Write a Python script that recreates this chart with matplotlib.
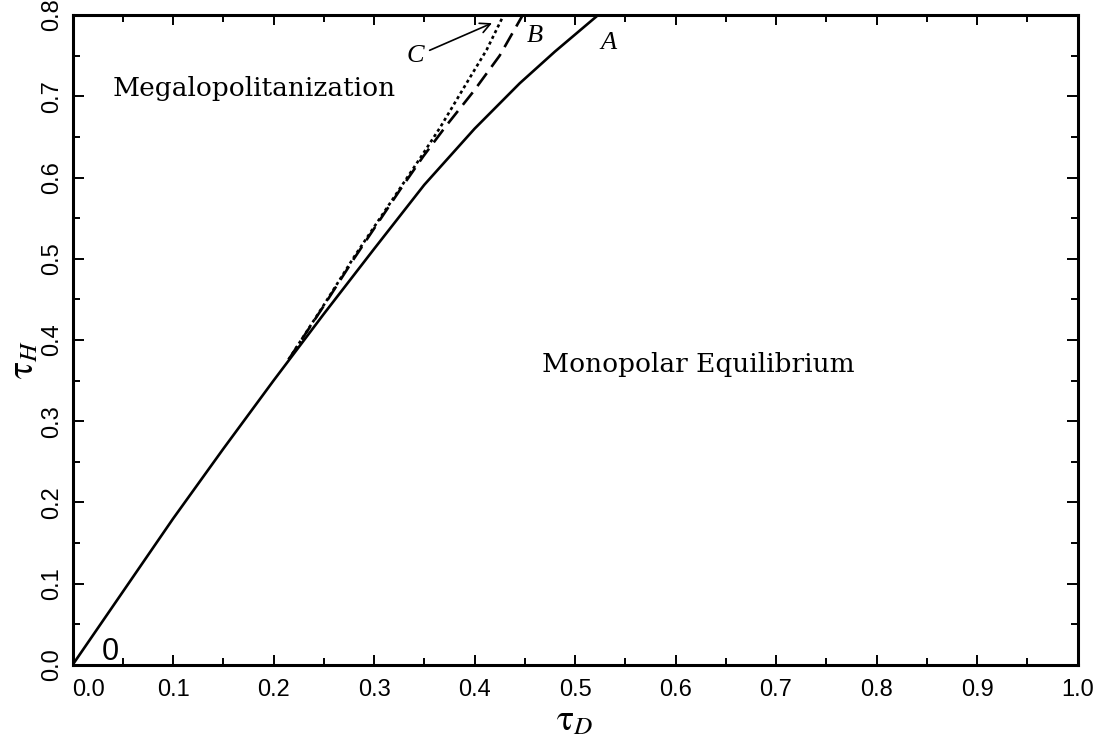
import numpy as np
import matplotlib
matplotlib.use("Agg")
import matplotlib.pyplot as plt
from matplotlib.ticker import MultipleLocator

plt.rcParams['mathtext.fontset'] = 'stix'

# curve A (solid), B (dashed), C (dotted)
a_x = [0.0, 0.05, 0.10, 0.15, 0.20, 0.25, 0.30, 0.35, 0.40, 0.445, 0.48, 0.523]
a_y = [0.0, 0.09, 0.18, 0.266, 0.35, 0.432, 0.512, 0.591, 0.660, 0.716, 0.755, 0.80]
b_x = [0.215, 0.25, 0.28, 0.30, 0.326, 0.349, 0.372, 0.399, 0.425, 0.448]
b_y = [0.376, 0.442, 0.500, 0.537, 0.585, 0.626, 0.664, 0.706, 0.750, 0.80]
c_x = [0.215, 0.25, 0.28, 0.30, 0.326, 0.346, 0.366, 0.392, 0.412, 0.429]
c_y = [0.376, 0.443, 0.502, 0.539, 0.587, 0.624, 0.662, 0.716, 0.757, 0.80]

x_ticks = [0.0, 0.1, 0.2, 0.3, 0.4, 0.5, 0.6, 0.7, 0.8, 0.9, 1.0]
y_ticks = [0.0, 0.1, 0.2, 0.3, 0.4, 0.5, 0.6, 0.7, 0.8]

fig = plt.figure(figsize=(11.02, 7.44), dpi=100)
ax = fig.add_axes([0.0658, 0.1062, 0.912, 0.8736])

ax.plot(a_x, a_y, color='black', lw=1.9, solid_capstyle='butt')
ax.plot(b_x, b_y, color='black', lw=1.9, dashes=(6, 3))
ax.plot(c_x, c_y, color='black', lw=1.9, dashes=(1.2, 1.2))

ax.set_xlim(0, 1.0)
ax.set_ylim(0, 0.8)
ax.set_xticks(x_ticks)
ax.set_yticks(y_ticks)
ax.set_xticklabels(['%.1f' % v for v in x_ticks])
ax.set_yticklabels(['%.1f' % v for v in y_ticks], rotation=90, va='center')
ax.xaxis.set_minor_locator(MultipleLocator(0.05))
ax.yaxis.set_minor_locator(MultipleLocator(0.05))
ax.tick_params(which='both', direction='in', top=True, right=True, width=1.4,
               labelsize=17, labelfontfamily='Liberation Sans')
ax.tick_params(axis='x', which='major', length=7, pad=10)
ax.tick_params(axis='y', which='major', length=8, pad=7)
ax.tick_params(which='minor', length=5)
ax.get_xticklabels()[0].set_ha('left')
for s in ax.spines.values():
    s.set_linewidth(2.2)

ax.set_xlabel(r'$\mathrm{\tau}_{D}$', fontsize=26, labelpad=2)
ax.set_ylabel(r'$\mathrm{\tau}_{H}$', fontsize=26)
ax.yaxis.set_label_coords(-0.032, 0.47)

ax.text(0.04, 0.71, 'Megalopolitanization', fontsize=19, family='DejaVu Serif',
        ha='left', va='center')
ax.text(0.467, 0.37, 'Monopolar Equilibrium', fontsize=19, family='DejaVu Serif',
        ha='left', va='center')
ax.text(0.038, -0.002, '0', fontsize=22, family='Liberation Sans', ha='center', va='bottom')

ax.text(0.525, 0.765, 'A', fontsize=19, family='Liberation Serif', style='italic',
        ha='left', va='center')
ax.text(0.452, 0.774, 'B', fontsize=19, family='Liberation Serif', style='italic',
        ha='left', va='center')
ax.annotate('C', xy=(0.4174, 0.790), xytext=(0.3325, 0.749), fontsize=19,
            family='Liberation Serif', style='italic', ha='left', va='center',
            arrowprops=dict(arrowstyle='->', color='black', lw=1.2,
                            shrinkA=2, shrinkB=0, mutation_scale=18))

fig.savefig('out.png', dpi=100)
